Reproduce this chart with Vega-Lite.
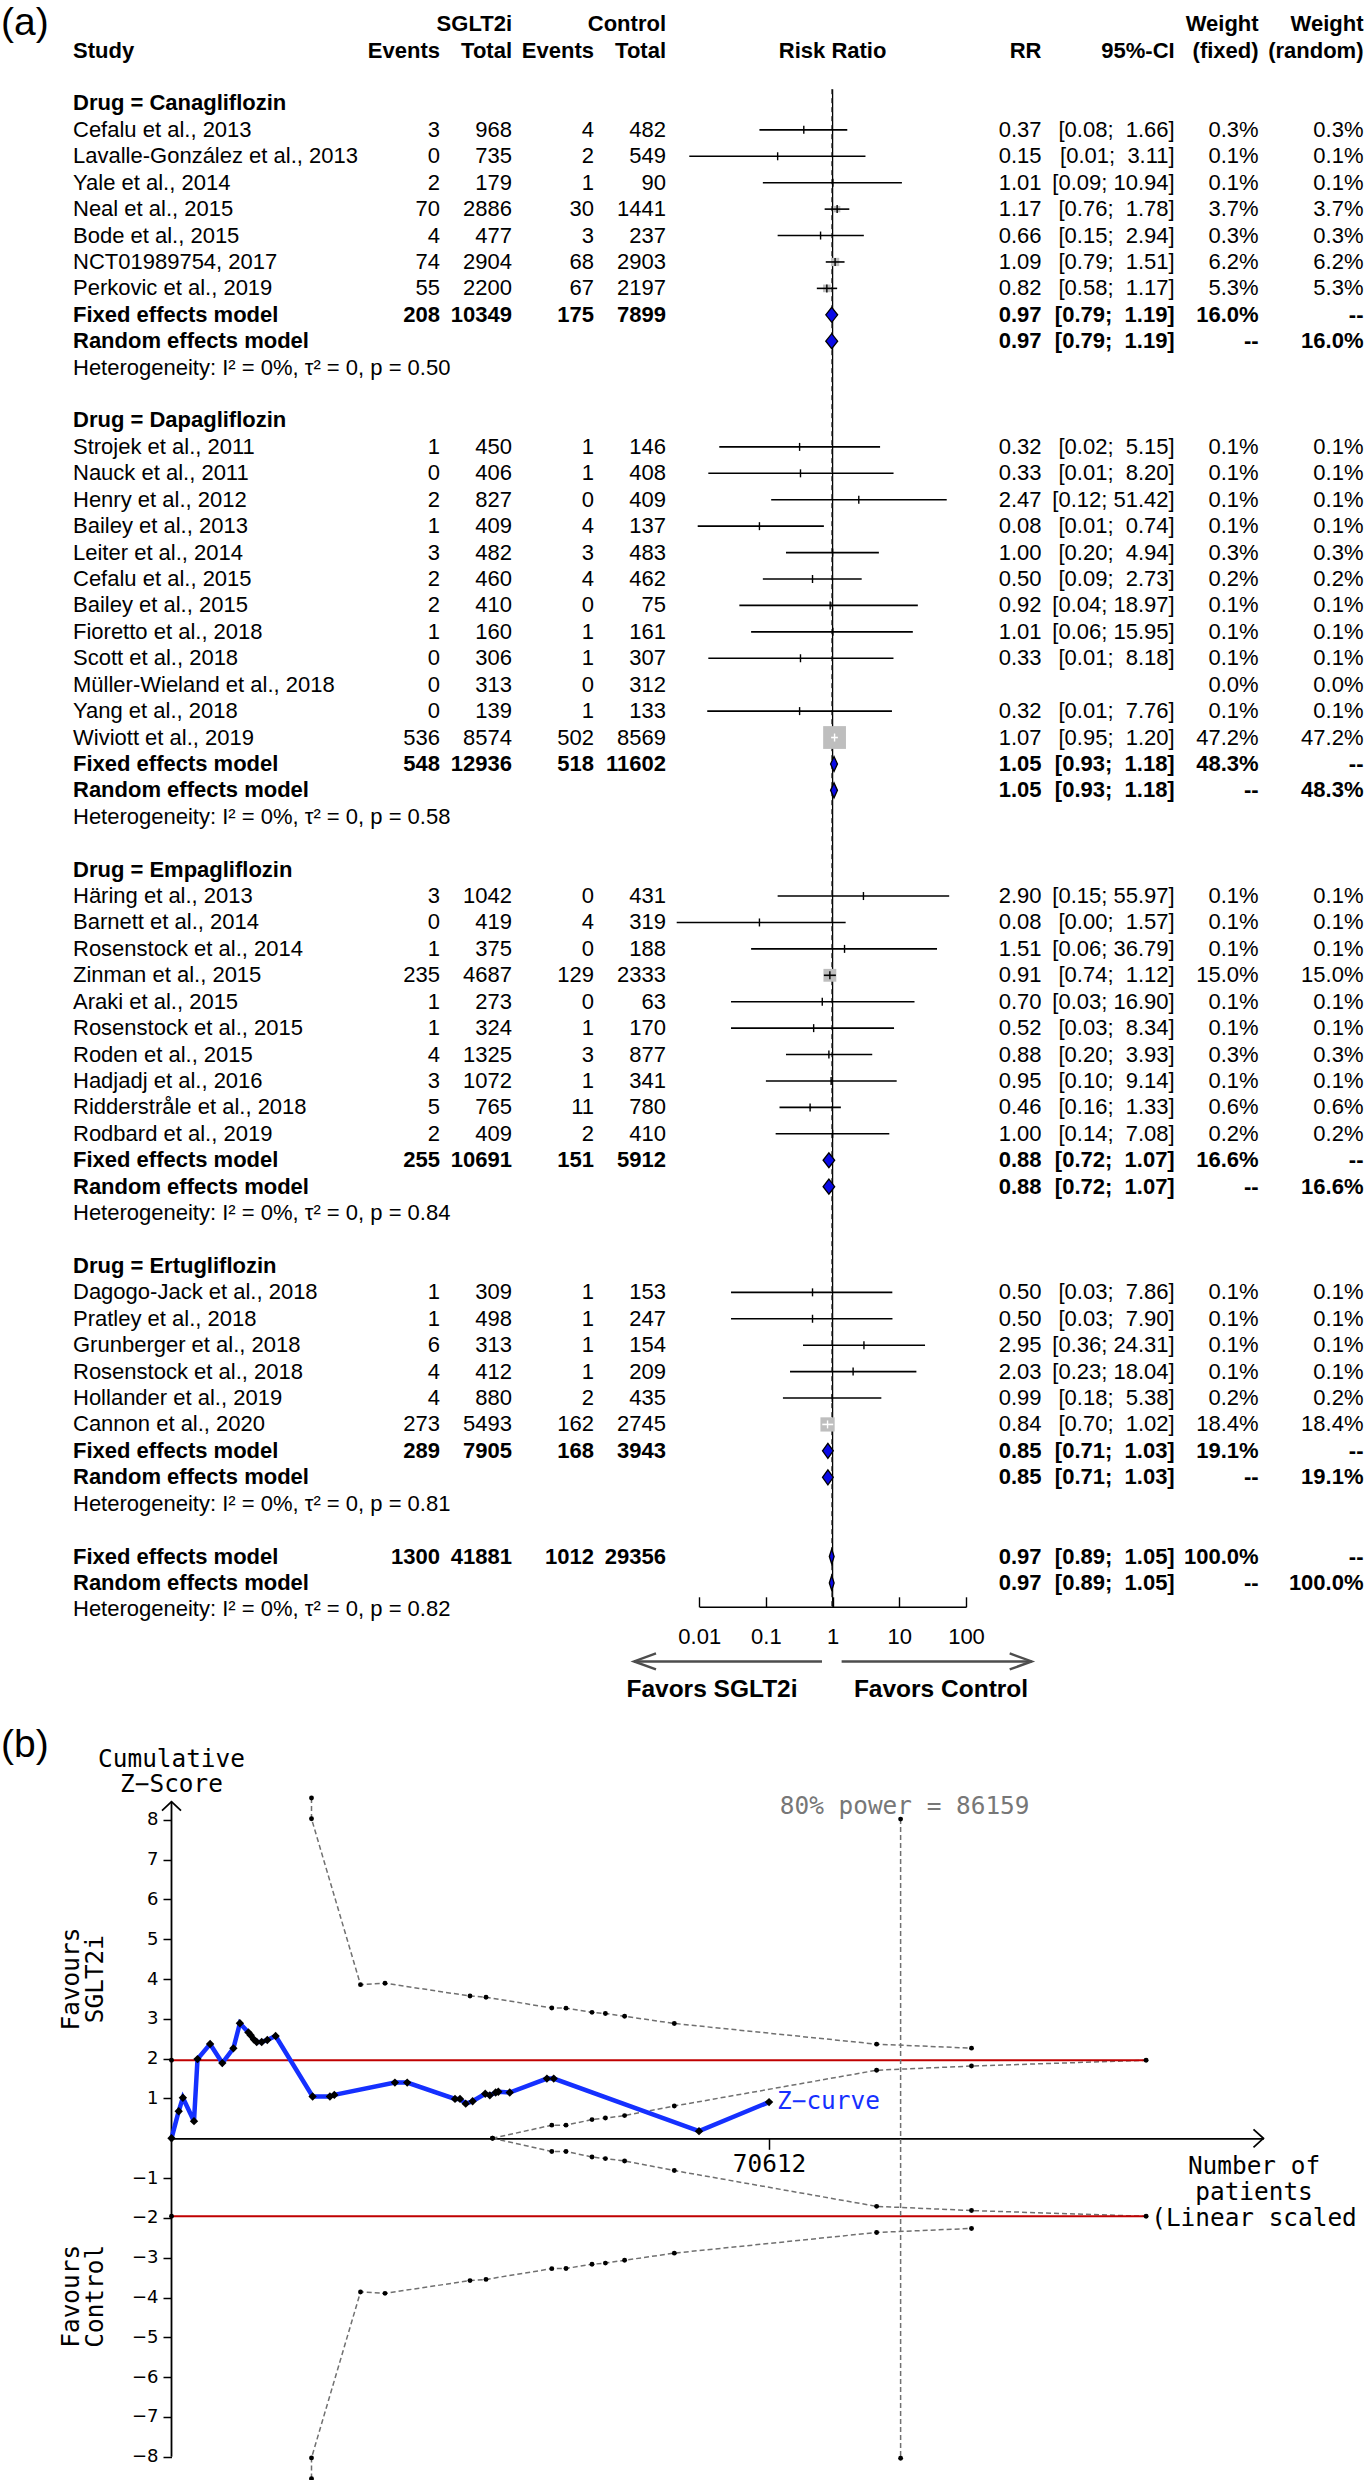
{
"$schema":"https://vega.github.io/schema/vega-lite/v6.json",
"width":1365,"height":2480,
"autosize":{"type":"none"},
"padding":0,
"background":"white",
"config":{"view":{"stroke":null}},
"datasets":{
"tbl":[
{"r":2,"kind":"drug","drug":"Canagliflozin","study":"Drug = Canagliflozin"},
{"r":3,"kind":"study","drug":"Canagliflozin","study":"Cefalu et al., 2013","e1":3,"n1":968,"e2":4,"n2":482,"rr":0.37,"lo":0.08,"hi":1.66,"ci":"[0.08;\u00a0 1.66]","wf":0.003,"wr":0.003},
{"r":4,"kind":"study","drug":"Canagliflozin","study":"Lavalle-González et al., 2013","e1":0,"n1":735,"e2":2,"n2":549,"rr":0.15,"lo":0.0071,"hi":3.11,"ci":"[0.01;\u00a0 3.11]","wf":0.001,"wr":0.001},
{"r":5,"kind":"study","drug":"Canagliflozin","study":"Yale et al., 2014","e1":2,"n1":179,"e2":1,"n2":90,"rr":1.01,"lo":0.09,"hi":10.94,"ci":"[0.09; 10.94]","wf":0.001,"wr":0.001},
{"r":6,"kind":"study","drug":"Canagliflozin","study":"Neal et al., 2015","e1":70,"n1":2886,"e2":30,"n2":1441,"rr":1.17,"lo":0.76,"hi":1.78,"ci":"[0.76;\u00a0 1.78]","wf":0.037,"wr":0.037},
{"r":7,"kind":"study","drug":"Canagliflozin","study":"Bode et al., 2015","e1":4,"n1":477,"e2":3,"n2":237,"rr":0.66,"lo":0.15,"hi":2.94,"ci":"[0.15;\u00a0 2.94]","wf":0.003,"wr":0.003},
{"r":8,"kind":"study","drug":"Canagliflozin","study":"NCT01989754, 2017","e1":74,"n1":2904,"e2":68,"n2":2903,"rr":1.09,"lo":0.79,"hi":1.51,"ci":"[0.79;\u00a0 1.51]","wf":0.062,"wr":0.062},
{"r":9,"kind":"study","drug":"Canagliflozin","study":"Perkovic et al., 2019","e1":55,"n1":2200,"e2":67,"n2":2197,"rr":0.82,"lo":0.58,"hi":1.17,"ci":"[0.58;\u00a0 1.17]","wf":0.053,"wr":0.053},
{"r":10,"kind":"fixed","drug":"Canagliflozin","study":"Fixed effects model","e1":208,"n1":10349,"e2":175,"n2":7899,"rr":0.97,"lo":0.79,"hi":1.19,"ci":"[0.79;\u00a0 1.19]","wf":0.16},
{"r":11,"kind":"random","drug":"Canagliflozin","study":"Random effects model","rr":0.97,"lo":0.79,"hi":1.19,"ci":"[0.79;\u00a0 1.19]","wr":0.16},
{"r":12,"kind":"het","drug":"Canagliflozin","study":"Heterogeneity: I² = 0%, τ² = 0, p = 0.50"},
{"r":14,"kind":"drug","drug":"Dapagliflozin","study":"Drug = Dapagliflozin"},
{"r":15,"kind":"study","drug":"Dapagliflozin","study":"Strojek et al., 2011","e1":1,"n1":450,"e2":1,"n2":146,"rr":0.32,"lo":0.02,"hi":5.15,"ci":"[0.02;\u00a0 5.15]","wf":0.001,"wr":0.001},
{"r":16,"kind":"study","drug":"Dapagliflozin","study":"Nauck et al., 2011","e1":0,"n1":406,"e2":1,"n2":408,"rr":0.33,"lo":0.0137,"hi":8.2,"ci":"[0.01;\u00a0 8.20]","wf":0.001,"wr":0.001},
{"r":17,"kind":"study","drug":"Dapagliflozin","study":"Henry et al., 2012","e1":2,"n1":827,"e2":0,"n2":409,"rr":2.47,"lo":0.12,"hi":51.42,"ci":"[0.12; 51.42]","wf":0.001,"wr":0.001},
{"r":18,"kind":"study","drug":"Dapagliflozin","study":"Bailey et al., 2013","e1":1,"n1":409,"e2":4,"n2":137,"rr":0.08,"lo":0.0095,"hi":0.74,"ci":"[0.01;\u00a0 0.74]","wf":0.001,"wr":0.001},
{"r":19,"kind":"study","drug":"Dapagliflozin","study":"Leiter et al., 2014","e1":3,"n1":482,"e2":3,"n2":483,"rr":1.0,"lo":0.2,"hi":4.94,"ci":"[0.20;\u00a0 4.94]","wf":0.003,"wr":0.003},
{"r":20,"kind":"study","drug":"Dapagliflozin","study":"Cefalu et al., 2015","e1":2,"n1":460,"e2":4,"n2":462,"rr":0.5,"lo":0.09,"hi":2.73,"ci":"[0.09;\u00a0 2.73]","wf":0.002,"wr":0.002},
{"r":21,"kind":"study","drug":"Dapagliflozin","study":"Bailey et al., 2015","e1":2,"n1":410,"e2":0,"n2":75,"rr":0.92,"lo":0.04,"hi":18.97,"ci":"[0.04; 18.97]","wf":0.001,"wr":0.001},
{"r":22,"kind":"study","drug":"Dapagliflozin","study":"Fioretto et al., 2018","e1":1,"n1":160,"e2":1,"n2":161,"rr":1.01,"lo":0.06,"hi":15.95,"ci":"[0.06; 15.95]","wf":0.001,"wr":0.001},
{"r":23,"kind":"study","drug":"Dapagliflozin","study":"Scott et al., 2018","e1":0,"n1":306,"e2":1,"n2":307,"rr":0.33,"lo":0.0137,"hi":8.18,"ci":"[0.01;\u00a0 8.18]","wf":0.001,"wr":0.001},
{"r":24,"kind":"study","drug":"Dapagliflozin","study":"Müller-Wieland et al., 2018","e1":0,"n1":313,"e2":0,"n2":312,"wf":0,"wr":0},
{"r":25,"kind":"study","drug":"Dapagliflozin","study":"Yang et al., 2018","e1":0,"n1":139,"e2":1,"n2":133,"rr":0.32,"lo":0.0132,"hi":7.76,"ci":"[0.01;\u00a0 7.76]","wf":0.001,"wr":0.001},
{"r":26,"kind":"study","drug":"Dapagliflozin","study":"Wiviott et al., 2019","e1":536,"n1":8574,"e2":502,"n2":8569,"rr":1.07,"lo":0.95,"hi":1.2,"ci":"[0.95;\u00a0 1.20]","wf":0.472,"wr":0.472},
{"r":27,"kind":"fixed","drug":"Dapagliflozin","study":"Fixed effects model","e1":548,"n1":12936,"e2":518,"n2":11602,"rr":1.05,"lo":0.93,"hi":1.18,"ci":"[0.93;\u00a0 1.18]","wf":0.483},
{"r":28,"kind":"random","drug":"Dapagliflozin","study":"Random effects model","rr":1.05,"lo":0.93,"hi":1.18,"ci":"[0.93;\u00a0 1.18]","wr":0.483},
{"r":29,"kind":"het","drug":"Dapagliflozin","study":"Heterogeneity: I² = 0%, τ² = 0, p = 0.58"},
{"r":31,"kind":"drug","drug":"Empagliflozin","study":"Drug = Empagliflozin"},
{"r":32,"kind":"study","drug":"Empagliflozin","study":"Häring et al., 2013","e1":3,"n1":1042,"e2":0,"n2":431,"rr":2.9,"lo":0.15,"hi":55.97,"ci":"[0.15; 55.97]","wf":0.001,"wr":0.001},
{"r":33,"kind":"study","drug":"Empagliflozin","study":"Barnett et al., 2014","e1":0,"n1":419,"e2":4,"n2":319,"rr":0.08,"lo":0.0046,"hi":1.57,"ci":"[0.00;\u00a0 1.57]","wf":0.001,"wr":0.001},
{"r":34,"kind":"study","drug":"Empagliflozin","study":"Rosenstock et al., 2014","e1":1,"n1":375,"e2":0,"n2":188,"rr":1.51,"lo":0.06,"hi":36.79,"ci":"[0.06; 36.79]","wf":0.001,"wr":0.001},
{"r":35,"kind":"study","drug":"Empagliflozin","study":"Zinman et al., 2015","e1":235,"n1":4687,"e2":129,"n2":2333,"rr":0.91,"lo":0.74,"hi":1.12,"ci":"[0.74;\u00a0 1.12]","wf":0.15,"wr":0.15},
{"r":36,"kind":"study","drug":"Empagliflozin","study":"Araki et al., 2015","e1":1,"n1":273,"e2":0,"n2":63,"rr":0.7,"lo":0.03,"hi":16.9,"ci":"[0.03; 16.90]","wf":0.001,"wr":0.001},
{"r":37,"kind":"study","drug":"Empagliflozin","study":"Rosenstock et al., 2015","e1":1,"n1":324,"e2":1,"n2":170,"rr":0.52,"lo":0.03,"hi":8.34,"ci":"[0.03;\u00a0 8.34]","wf":0.001,"wr":0.001},
{"r":38,"kind":"study","drug":"Empagliflozin","study":"Roden et al., 2015","e1":4,"n1":1325,"e2":3,"n2":877,"rr":0.88,"lo":0.2,"hi":3.93,"ci":"[0.20;\u00a0 3.93]","wf":0.003,"wr":0.003},
{"r":39,"kind":"study","drug":"Empagliflozin","study":"Hadjadj et al., 2016","e1":3,"n1":1072,"e2":1,"n2":341,"rr":0.95,"lo":0.1,"hi":9.14,"ci":"[0.10;\u00a0 9.14]","wf":0.001,"wr":0.001},
{"r":40,"kind":"study","drug":"Empagliflozin","study":"Ridderstråle et al., 2018","e1":5,"n1":765,"e2":11,"n2":780,"rr":0.46,"lo":0.16,"hi":1.33,"ci":"[0.16;\u00a0 1.33]","wf":0.006,"wr":0.006},
{"r":41,"kind":"study","drug":"Empagliflozin","study":"Rodbard et al., 2019","e1":2,"n1":409,"e2":2,"n2":410,"rr":1.0,"lo":0.14,"hi":7.08,"ci":"[0.14;\u00a0 7.08]","wf":0.002,"wr":0.002},
{"r":42,"kind":"fixed","drug":"Empagliflozin","study":"Fixed effects model","e1":255,"n1":10691,"e2":151,"n2":5912,"rr":0.88,"lo":0.72,"hi":1.07,"ci":"[0.72;\u00a0 1.07]","wf":0.166},
{"r":43,"kind":"random","drug":"Empagliflozin","study":"Random effects model","rr":0.88,"lo":0.72,"hi":1.07,"ci":"[0.72;\u00a0 1.07]","wr":0.166},
{"r":44,"kind":"het","drug":"Empagliflozin","study":"Heterogeneity: I² = 0%, τ² = 0, p = 0.84"},
{"r":46,"kind":"drug","drug":"Ertugliflozin","study":"Drug = Ertugliflozin"},
{"r":47,"kind":"study","drug":"Ertugliflozin","study":"Dagogo-Jack et al., 2018","e1":1,"n1":309,"e2":1,"n2":153,"rr":0.5,"lo":0.03,"hi":7.86,"ci":"[0.03;\u00a0 7.86]","wf":0.001,"wr":0.001},
{"r":48,"kind":"study","drug":"Ertugliflozin","study":"Pratley et al., 2018","e1":1,"n1":498,"e2":1,"n2":247,"rr":0.5,"lo":0.03,"hi":7.9,"ci":"[0.03;\u00a0 7.90]","wf":0.001,"wr":0.001},
{"r":49,"kind":"study","drug":"Ertugliflozin","study":"Grunberger et al., 2018","e1":6,"n1":313,"e2":1,"n2":154,"rr":2.95,"lo":0.36,"hi":24.31,"ci":"[0.36; 24.31]","wf":0.001,"wr":0.001},
{"r":50,"kind":"study","drug":"Ertugliflozin","study":"Rosenstock et al., 2018","e1":4,"n1":412,"e2":1,"n2":209,"rr":2.03,"lo":0.23,"hi":18.04,"ci":"[0.23; 18.04]","wf":0.001,"wr":0.001},
{"r":51,"kind":"study","drug":"Ertugliflozin","study":"Hollander et al., 2019","e1":4,"n1":880,"e2":2,"n2":435,"rr":0.99,"lo":0.18,"hi":5.38,"ci":"[0.18;\u00a0 5.38]","wf":0.002,"wr":0.002},
{"r":52,"kind":"study","drug":"Ertugliflozin","study":"Cannon et al., 2020","e1":273,"n1":5493,"e2":162,"n2":2745,"rr":0.84,"lo":0.7,"hi":1.02,"ci":"[0.70;\u00a0 1.02]","wf":0.184,"wr":0.184},
{"r":53,"kind":"fixed","drug":"Ertugliflozin","study":"Fixed effects model","e1":289,"n1":7905,"e2":168,"n2":3943,"rr":0.85,"lo":0.71,"hi":1.03,"ci":"[0.71;\u00a0 1.03]","wf":0.191},
{"r":54,"kind":"random","drug":"Ertugliflozin","study":"Random effects model","rr":0.85,"lo":0.71,"hi":1.03,"ci":"[0.71;\u00a0 1.03]","wr":0.191},
{"r":55,"kind":"het","drug":"Ertugliflozin","study":"Heterogeneity: I² = 0%, τ² = 0, p = 0.81"},
{"r":57,"kind":"fixed","drug":"Overall","study":"Fixed effects model","e1":1300,"n1":41881,"e2":1012,"n2":29356,"rr":0.97,"lo":0.89,"hi":1.05,"ci":"[0.89;\u00a0 1.05]","wf":1.0},
{"r":58,"kind":"random","drug":"Overall","study":"Random effects model","rr":0.97,"lo":0.89,"hi":1.05,"ci":"[0.89;\u00a0 1.05]","wr":1.0},
{"r":59,"kind":"het","drug":"Overall","study":"Heterogeneity: I² = 0%, τ² = 0, p = 0.82"}
],
"zc":[
{"n":0,"z":0},{"n":851,"z":0.68},{"n":1347,"z":1.02},{"n":2659,"z":0.43},{"n":3073,"z":1.99},{"n":4561,"z":2.37},{"n":6003,"z":1.89},{"n":7315,"z":2.26},{"n":8083,"z":2.89},{"n":9088,"z":2.66},{"n":9359,"z":2.59},{"n":9749,"z":2.48},{"n":10068,"z":2.42},{"n":10659,"z":2.42},{"n":11321,"z":2.47},{"n":12302,"z":2.57},{"n":16675,"z":1.05},{"n":18719,"z":1.05},{"n":19239,"z":1.09},{"n":26400,"z":1.4},{"n":27854,"z":1.4},{"n":33503,"z":0.99},{"n":34094,"z":0.99},{"n":34767,"z":0.87},{"n":35583,"z":0.93},{"n":37072,"z":1.12},{"n":37616,"z":1.08},{"n":38301,"z":1.15},{"n":38620,"z":1.17},{"n":39967,"z":1.15},{"n":44363,"z":1.5},{"n":45167,"z":1.5},{"n":62337,"z":0.18},{"n":70612,"z":0.91}
],
"bnd":[
{"s":"upper","n":16544,"z":8.55},{"s":"upper","n":16544,"z":8.03},{"s":"upper","n":22334,"z":3.86},{"s":"upper","n":25229,"z":3.895},{"s":"upper","n":35274,"z":3.575},{"s":"upper","n":37165,"z":3.545},{"s":"upper","n":44940,"z":3.275},{"s":"upper","n":46618,"z":3.27},{"s":"upper","n":49691,"z":3.165},{"s":"upper","n":51274,"z":3.135},{"s":"upper","n":53543,"z":3.065},{"s":"upper","n":59416,"z":2.885},{"s":"upper","n":83322,"z":2.365},{"s":"upper","n":94536,"z":2.265},
{"s":"lower","n":16544,"z":-8.55},{"s":"lower","n":16544,"z":-8.03},{"s":"lower","n":22334,"z":-3.86},{"s":"lower","n":25229,"z":-3.895},{"s":"lower","n":35274,"z":-3.575},{"s":"lower","n":37165,"z":-3.545},{"s":"lower","n":44940,"z":-3.275},{"s":"lower","n":46618,"z":-3.27},{"s":"lower","n":49691,"z":-3.165},{"s":"lower","n":51274,"z":-3.135},{"s":"lower","n":53543,"z":-3.065},{"s":"lower","n":59416,"z":-2.885},{"s":"lower","n":83322,"z":-2.365},{"s":"lower","n":94536,"z":-2.265},
{"s":"uin","n":37933,"z":0},{"s":"uin","n":44940,"z":0.33},{"s":"uin","n":46618,"z":0.33},{"s":"uin","n":49691,"z":0.47},{"s":"uin","n":51274,"z":0.51},{"s":"uin","n":53543,"z":0.57},{"s":"uin","n":59416,"z":0.81},{"s":"uin","n":83322,"z":1.71},{"s":"uin","n":94536,"z":1.815},{"s":"uin","n":115169,"z":1.96},
{"s":"lin","n":37933,"z":0},{"s":"lin","n":44940,"z":-0.33},{"s":"lin","n":46618,"z":-0.33},{"s":"lin","n":49691,"z":-0.47},{"s":"lin","n":51274,"z":-0.51},{"s":"lin","n":53543,"z":-0.57},{"s":"lin","n":59416,"z":-0.81},{"s":"lin","n":83322,"z":-1.71},{"s":"lin","n":94536,"z":-1.815},{"s":"lin","n":115169,"z":-1.96}
],
"conv":[{"z":1.96},{"z":-1.96}]
},
"layer":[
{
"data":{"name":"tbl"},
"layer":[
{"mark":{"type":"text","font":"Liberation Sans","fontSize":22,"baseline":"middle","align":"left","color":"black","fontWeight":{"expr":"datum.kind === 'study' || datum.kind === 'het' ? 'normal' : 'bold'"}},
 "encoding":{"x":{"datum":73,"type":"quantitative","scale":{"domain":[0,1365],"range":[0,1365],"nice":false,"zero":false},"axis":null},
 "y":{"field":"r","type":"quantitative","scale":{"domain":[0,60],"range":[50.6,1635.8],"nice":false,"zero":false},"axis":null},
 "text":{"field":"study","type":"nominal"}}},
{"transform":[{"filter":"isValid(datum.e1)"}],
 "mark":{"type":"text","font":"Liberation Sans","fontSize":22,"baseline":"middle","align":"right","color":"black","fontWeight":{"expr":"datum.kind === 'study' ? 'normal' : 'bold'"}},
 "encoding":{"x":{"datum":440,"type":"quantitative","axis":null},"y":{"field":"r","type":"quantitative","axis":null},"text":{"field":"e1","type":"quantitative","format":"d"}}},
{"transform":[{"filter":"isValid(datum.e1)"}],
 "mark":{"type":"text","font":"Liberation Sans","fontSize":22,"baseline":"middle","align":"right","color":"black","fontWeight":{"expr":"datum.kind === 'study' ? 'normal' : 'bold'"}},
 "encoding":{"x":{"datum":512,"type":"quantitative","axis":null},"y":{"field":"r","type":"quantitative","axis":null},"text":{"field":"n1","type":"quantitative","format":"d"}}},
{"transform":[{"filter":"isValid(datum.e1)"}],
 "mark":{"type":"text","font":"Liberation Sans","fontSize":22,"baseline":"middle","align":"right","color":"black","fontWeight":{"expr":"datum.kind === 'study' ? 'normal' : 'bold'"}},
 "encoding":{"x":{"datum":594,"type":"quantitative","axis":null},"y":{"field":"r","type":"quantitative","axis":null},"text":{"field":"e2","type":"quantitative","format":"d"}}},
{"transform":[{"filter":"isValid(datum.e1)"}],
 "mark":{"type":"text","font":"Liberation Sans","fontSize":22,"baseline":"middle","align":"right","color":"black","fontWeight":{"expr":"datum.kind === 'study' ? 'normal' : 'bold'"}},
 "encoding":{"x":{"datum":666,"type":"quantitative","axis":null},"y":{"field":"r","type":"quantitative","axis":null},"text":{"field":"n2","type":"quantitative","format":"d"}}},
{"transform":[{"filter":"isValid(datum.rr)"}],
 "mark":{"type":"text","font":"Liberation Sans","fontSize":22,"baseline":"middle","align":"right","color":"black","fontWeight":{"expr":"datum.kind === 'study' ? 'normal' : 'bold'"}},
 "encoding":{"x":{"datum":1041.5,"type":"quantitative","axis":null},"y":{"field":"r","type":"quantitative","axis":null},"text":{"field":"rr","type":"quantitative","format":".2f"}}},
{"transform":[{"filter":"isValid(datum.ci)"}],
 "mark":{"type":"text","font":"Liberation Sans","fontSize":22,"baseline":"middle","align":"right","color":"black","fontWeight":{"expr":"datum.kind === 'study' ? 'normal' : 'bold'"}},
 "encoding":{"x":{"datum":1174.7,"type":"quantitative","axis":null},"y":{"field":"r","type":"quantitative","axis":null},"text":{"field":"ci","type":"nominal"}}},
{"transform":[{"filter":"datum.kind === 'study' || datum.kind === 'fixed' || datum.kind === 'random'"}],
 "mark":{"type":"text","font":"Liberation Sans","fontSize":22,"baseline":"middle","align":"right","color":"black","fontWeight":{"expr":"datum.kind === 'study' ? 'normal' : 'bold'"}},
 "encoding":{"x":{"datum":1258.6,"type":"quantitative","axis":null},"y":{"field":"r","type":"quantitative","axis":null},"text":{"condition":{"test":"!isValid(datum.wf)","value":"--"},"field":"wf","type":"quantitative","format":".1%"}}},
{"transform":[{"filter":"datum.kind === 'study' || datum.kind === 'fixed' || datum.kind === 'random'"}],
 "mark":{"type":"text","font":"Liberation Sans","fontSize":22,"baseline":"middle","align":"right","color":"black","fontWeight":{"expr":"datum.kind === 'study' ? 'normal' : 'bold'"}},
 "encoding":{"x":{"datum":1363.5,"type":"quantitative","axis":null},"y":{"field":"r","type":"quantitative","axis":null},"text":{"condition":{"test":"!isValid(datum.wr)","value":"--"},"field":"wr","type":"quantitative","format":".1%"}}},
{"data":{"values":[{}]},"mark":{"type":"text","text":"(a)","font":"Liberation Sans","fontSize":39,"baseline":"middle","align":"left","color":"black"},
 "encoding":{"x":{"datum":1,"type":"quantitative","axis":null},"y":{"datum":-1.045,"type":"quantitative","axis":null}}},
{"data":{"values":[{}]},"mark":{"type":"text","text":"(b)","font":"Liberation Sans","fontSize":39,"baseline":"middle","align":"left","color":"black"},
 "encoding":{"x":{"datum":1,"type":"quantitative","axis":null},"y":{"datum":64.13,"type":"quantitative","axis":null}}},
{"data":{"values":[{}]},"mark":{"type":"text","text":"Study","font":"Liberation Sans","fontSize":22,"fontWeight":"bold","baseline":"middle","align":"left","color":"black"},
 "encoding":{"x":{"datum":73,"type":"quantitative","axis":null},"y":{"datum":0,"type":"quantitative","axis":null}}},
{"data":{"values":[{}]},"mark":{"type":"text","text":"Events","font":"Liberation Sans","fontSize":22,"fontWeight":"bold","baseline":"middle","align":"right","color":"black"},
 "encoding":{"x":{"datum":440,"type":"quantitative","axis":null},"y":{"datum":0,"type":"quantitative","axis":null}}},
{"data":{"values":[{}]},"mark":{"type":"text","text":"Total","font":"Liberation Sans","fontSize":22,"fontWeight":"bold","baseline":"middle","align":"right","color":"black"},
 "encoding":{"x":{"datum":512,"type":"quantitative","axis":null},"y":{"datum":0,"type":"quantitative","axis":null}}},
{"data":{"values":[{}]},"mark":{"type":"text","text":"Events","font":"Liberation Sans","fontSize":22,"fontWeight":"bold","baseline":"middle","align":"right","color":"black"},
 "encoding":{"x":{"datum":594,"type":"quantitative","axis":null},"y":{"datum":0,"type":"quantitative","axis":null}}},
{"data":{"values":[{}]},"mark":{"type":"text","text":"Total","font":"Liberation Sans","fontSize":22,"fontWeight":"bold","baseline":"middle","align":"right","color":"black"},
 "encoding":{"x":{"datum":666,"type":"quantitative","axis":null},"y":{"datum":0,"type":"quantitative","axis":null}}},
{"data":{"values":[{}]},"mark":{"type":"text","text":"SGLT2i","font":"Liberation Sans","fontSize":22,"fontWeight":"bold","baseline":"middle","align":"right","color":"black"},
 "encoding":{"x":{"datum":512,"type":"quantitative","axis":null},"y":{"datum":-1,"type":"quantitative","axis":null}}},
{"data":{"values":[{}]},"mark":{"type":"text","text":"Control","font":"Liberation Sans","fontSize":22,"fontWeight":"bold","baseline":"middle","align":"right","color":"black"},
 "encoding":{"x":{"datum":666,"type":"quantitative","axis":null},"y":{"datum":-1,"type":"quantitative","axis":null}}},
{"data":{"values":[{}]},"mark":{"type":"text","text":"RR","font":"Liberation Sans","fontSize":22,"fontWeight":"bold","baseline":"middle","align":"right","color":"black"},
 "encoding":{"x":{"datum":1041.5,"type":"quantitative","axis":null},"y":{"datum":0,"type":"quantitative","axis":null}}},
{"data":{"values":[{}]},"mark":{"type":"text","text":"95%-CI","font":"Liberation Sans","fontSize":22,"fontWeight":"bold","baseline":"middle","align":"right","color":"black"},
 "encoding":{"x":{"datum":1174.7,"type":"quantitative","axis":null},"y":{"datum":0,"type":"quantitative","axis":null}}},
{"data":{"values":[{}]},"mark":{"type":"text","text":"Weight","font":"Liberation Sans","fontSize":22,"fontWeight":"bold","baseline":"middle","align":"right","color":"black"},
 "encoding":{"x":{"datum":1258.6,"type":"quantitative","axis":null},"y":{"datum":-1,"type":"quantitative","axis":null}}},
{"data":{"values":[{}]},"mark":{"type":"text","text":"(fixed)","font":"Liberation Sans","fontSize":22,"fontWeight":"bold","baseline":"middle","align":"right","color":"black"},
 "encoding":{"x":{"datum":1258.6,"type":"quantitative","axis":null},"y":{"datum":0,"type":"quantitative","axis":null}}},
{"data":{"values":[{}]},"mark":{"type":"text","text":"Weight","font":"Liberation Sans","fontSize":22,"fontWeight":"bold","baseline":"middle","align":"right","color":"black"},
 "encoding":{"x":{"datum":1363.5,"type":"quantitative","axis":null},"y":{"datum":-1,"type":"quantitative","axis":null}}},
{"data":{"values":[{}]},"mark":{"type":"text","text":"(random)","font":"Liberation Sans","fontSize":22,"fontWeight":"bold","baseline":"middle","align":"right","color":"black"},
 "encoding":{"x":{"datum":1363.5,"type":"quantitative","axis":null},"y":{"datum":0,"type":"quantitative","axis":null}}}
]
},
{
"data":{"name":"tbl"},
"layer":[
{"data":{"values":[{}]},"mark":{"type":"rule","color":"black","strokeWidth":1.3},
 "encoding":{"x":{"datum":1,"type":"quantitative","scale":{"type":"log","domain":[0.01,100],"range":[699.2,966.0],"nice":false},
 "axis":{"orient":"bottom","offset":-873.2,"values":[0.01,0.1,1,10,100],"format":"~g","title":null,"grid":false,"domainColor":"black","domainWidth":1.4,"tickColor":"black","tickWidth":1.4,"tickSize":-10,"labelFont":"Liberation Sans","labelFontSize":22,"labelColor":"black","labelPadding":30,"labelFlush":false,"labelOverlap":false}},
 "y":{"datum":1.46,"type":"quantitative","scale":{"domain":[0,60],"range":[50.6,1635.8],"nice":false,"zero":false},"axis":null},"y2":{"datum":58.9}}},
{"data":{"values":[{}]},"mark":{"type":"rule","color":"#444444","strokeWidth":1,"strokeDash":[5,4]},
 "encoding":{"x":{"datum":0.97,"type":"quantitative"},"y":{"datum":1.46,"type":"quantitative","axis":null},"y2":{"datum":58.9}}},
{"transform":[{"filter":"datum.kind === 'study' && isValid(datum.rr)"}],
 "mark":{"type":"point","shape":"square","filled":true,"color":"#BEBEBE","opacity":1,"strokeWidth":0},
 "encoding":{"x":{"field":"rr","type":"quantitative"},
 "y":{"field":"r","type":"quantitative","axis":null},
 "size":{"field":"wf","type":"quantitative","scale":{"domain":[0,0.472],"range":[0,520]},"legend":null}}},
{"transform":[{"filter":"datum.kind === 'study' && isValid(datum.rr)"}],
 "mark":{"type":"rule","strokeWidth":1.6},
 "encoding":{"x":{"field":"lo","type":"quantitative"},"x2":{"field":"hi"},"y":{"field":"r","type":"quantitative","axis":null},
 "color":{"condition":{"test":"datum.wf > 0.16","value":"white"},"value":"black"}}},
{"transform":[{"filter":"datum.kind === 'study' && isValid(datum.rr)"}],
 "mark":{"type":"point","shape":"M0,-1L0,1","filled":false,"size":64,"strokeWidth":1.4,"opacity":1},
 "encoding":{"x":{"field":"rr","type":"quantitative"},"y":{"field":"r","type":"quantitative","axis":null},
 "color":{"condition":{"test":"datum.wf > 0.16","value":"white"},"value":"black"}}},
{"transform":[{"filter":"datum.kind === 'fixed' || datum.kind === 'random'"}],
 "mark":{"type":"point","filled":true,"fill":"#0A0AE6","stroke":"black","strokeWidth":1.3,"size":225,"opacity":1},
 "encoding":{"x":{"field":"rr","type":"quantitative"},"y":{"field":"r","type":"quantitative","axis":null},
 "shape":{"field":"drug","type":"nominal","scale":{"domain":["Canagliflozin","Dapagliflozin","Empagliflozin","Ertugliflozin","Overall"],"range":["M-0.79,0L0,-1L0.79,0L0,1Z","M-0.46,0L0,-1L0.46,0L0,1Z","M-0.77,0L0,-1L0.77,0L0,1Z","M-0.72,0L0,-1L0.72,0L0,1Z","M-0.32,0L0,-1L0.32,0L0,1Z"]},"legend":null}}},
{"data":{"values":[{}]},"mark":{"type":"rule","color":"#4d4d4d","strokeWidth":2.4},
 "encoding":{"x":{"datum":0.001053,"type":"quantitative"},"x2":{"datum":0.6934},"y":{"datum":60.97,"type":"quantitative","axis":null}}},
{"data":{"values":[{}]},"mark":{"type":"rule","color":"#4d4d4d","strokeWidth":2.4},
 "encoding":{"x":{"datum":1.365,"type":"quantitative"},"x2":{"datum":966},"y":{"datum":60.97,"type":"quantitative","axis":null}}},
{"data":{"values":[{}]},"mark":{"type":"point","shape":"M1,-0.364L0,0L1,0.364","filled":false,"size":1936,"stroke":"#4d4d4d","strokeWidth":2.4,"opacity":1},
 "encoding":{"x":{"datum":0.001053,"type":"quantitative"},"y":{"datum":60.97,"type":"quantitative","axis":null}}},
{"data":{"values":[{}]},"mark":{"type":"point","shape":"M-1,-0.364L0,0L-1,0.364","filled":false,"size":1936,"stroke":"#4d4d4d","strokeWidth":2.4,"opacity":1},
 "encoding":{"x":{"datum":966,"type":"quantitative"},"y":{"datum":60.97,"type":"quantitative","axis":null}}},
{"data":{"values":[{}]},"mark":{"type":"text","text":"Favors SGLT2i","font":"Liberation Sans","fontSize":24.5,"fontWeight":"bold","align":"center","baseline":"middle","color":"black"},
 "encoding":{"x":{"datum":0.01555,"type":"quantitative"},"y":{"datum":62.06,"type":"quantitative","axis":null}}},
{"data":{"values":[{}]},"mark":{"type":"text","text":"Favors Control","font":"Liberation Sans","fontSize":24.5,"fontWeight":"bold","align":"center","baseline":"middle","color":"black"},
 "encoding":{"x":{"datum":42.2,"type":"quantitative"},"y":{"datum":62.06,"type":"quantitative","axis":null}}},
{"data":{"values":[{}]},"mark":{"type":"text","text":"Risk Ratio","font":"Liberation Sans","fontSize":22,"fontWeight":"bold","align":"center","baseline":"middle","color":"black"},
 "encoding":{"x":{"datum":1,"type":"quantitative"},"y":{"datum":0,"type":"quantitative","axis":null}}}
]
},
{
"layer":[
{"data":{"name":"bnd"},"mark":{"type":"line","color":"#707070","strokeWidth":1.5,"strokeDash":[5,3]},
 "encoding":{"x":{"field":"n","type":"quantitative","scale":{"domain":[0,129030],"range":[171.5,1263.4],"nice":false,"zero":false},
 "axis":{"orient":"bottom","offset":-341.7,"values":[70612],"format":"d","title":null,"grid":false,"domainColor":"black","domainWidth":1.8,"tickColor":"black","tickWidth":1.5,"tickSize":11,"labelFont":"DejaVu Sans Mono","labelFontSize":24.4,"labelColor":"black","labelPadding":3,"labelFlush":false}},
 "y":{"field":"z","type":"quantitative","scale":{"domain":[-8.6,8.6],"range":[2480.6,1796.0],"nice":false,"zero":false},
 "axis":{"orient":"left","offset":-171.5,"values":[-8,-7,-6,-5,-4,-3,-2,-1,1,2,3,4,5,6,7,8],"format":"d","title":null,"grid":false,"domain":false,"tickColor":"black","tickWidth":1.5,"tickSize":8.5,"labelFont":"DejaVu Sans","labelFontSize":18,"labelColor":"black","labelPadding":5,"labelFlush":false,"labelOverlap":false}},
 "detail":{"field":"s","type":"nominal"},"order":{"value":null}}},
{"data":{"name":"conv"},"mark":{"type":"rule","color":"#C00000","strokeWidth":2},
 "encoding":{"x":{"datum":0,"type":"quantitative"},"x2":{"datum":115169},"y":{"field":"z","type":"quantitative"}}},
{"data":{"values":[{}]},"mark":{"type":"rule","color":"#707070","strokeWidth":1.5,"strokeDash":[5,3]},
 "encoding":{"x":{"datum":86159,"type":"quantitative"},"y":{"datum":8.02,"type":"quantitative"},"y2":{"datum":-8.04}}},
{"data":{"values":[{}]},"mark":{"type":"rule","color":"black","strokeWidth":1.8},
 "encoding":{"x":{"datum":0,"type":"quantitative"},"y":{"datum":-8,"type":"quantitative"},"y2":{"datum":8.457}}},
{"data":{"values":[{}]},"mark":{"type":"point","shape":"M-1,0.95L0,0L1,0.95","filled":false,"size":361,"stroke":"black","strokeWidth":1.8,"opacity":1},
 "encoding":{"x":{"datum":0,"type":"quantitative"},"y":{"datum":8.457,"type":"quantitative"}}},
{"data":{"values":[{}]},"mark":{"type":"point","shape":"M-1.1,-1L0,0L-1.1,1","filled":false,"size":324,"stroke":"black","strokeWidth":1.8,"opacity":1},
 "encoding":{"x":{"datum":129030,"type":"quantitative"},"y":{"datum":0,"type":"quantitative"}}},
{"data":{"name":"zc"},"mark":{"type":"line","color":"#1530FF","strokeWidth":4.5},
 "encoding":{"x":{"field":"n","type":"quantitative"},"y":{"field":"z","type":"quantitative"},"order":{"value":null}}},
{"data":{"name":"bnd"},"mark":{"type":"point","filled":true,"color":"black","size":24,"opacity":1},
 "encoding":{"x":{"field":"n","type":"quantitative"},"y":{"field":"z","type":"quantitative"}}},
{"data":{"name":"conv"},"mark":{"type":"point","filled":true,"color":"black","size":24,"opacity":1},
 "encoding":{"x":{"datum":0,"type":"quantitative"},"y":{"field":"z","type":"quantitative"}}},
{"data":{"values":[{}]},"mark":{"type":"point","filled":true,"color":"black","size":24,"opacity":1},
 "encoding":{"x":{"datum":86159,"type":"quantitative"},"y":{"datum":8.02,"type":"quantitative"}}},
{"data":{"values":[{}]},"mark":{"type":"point","filled":true,"color":"black","size":24,"opacity":1},
 "encoding":{"x":{"datum":86159,"type":"quantitative"},"y":{"datum":-8.04,"type":"quantitative"}}},
{"data":{"name":"zc"},"mark":{"type":"point","shape":"diamond","filled":true,"color":"black","size":70,"opacity":1},
 "encoding":{"x":{"field":"n","type":"quantitative"},"y":{"field":"z","type":"quantitative"}}},
{"data":{"values":[{}]},"mark":{"type":"text","text":["Cumulative","Z−Score"],"font":"DejaVu Sans Mono","fontSize":24.4,"lineHeight":25,"align":"center","baseline":"middle","color":"black"},
 "encoding":{"x":{"datum":0,"type":"quantitative"},"y":{"datum":9.505,"type":"quantitative"}}},
{"data":{"values":[{}]},"mark":{"type":"text","text":["Favours","SGLT2i"],"font":"DejaVu Sans Mono","fontSize":24.4,"lineHeight":23.5,"align":"center","baseline":"middle","angle":270,"color":"black"},
 "encoding":{"x":{"datum":-11699,"type":"quantitative"},"y":{"datum":4.0,"type":"quantitative"}}},
{"data":{"values":[{}]},"mark":{"type":"text","text":["Favours","Control"],"font":"DejaVu Sans Mono","fontSize":24.4,"lineHeight":23.5,"align":"center","baseline":"middle","angle":270,"color":"black"},
 "encoding":{"x":{"datum":-11699,"type":"quantitative"},"y":{"datum":-3.97,"type":"quantitative"}}},
{"data":{"values":[{}]},"mark":{"type":"text","text":"80% power = 86159","font":"DejaVu Sans Mono","fontSize":24.4,"align":"center","baseline":"middle","dx":4,"color":"#777777"},
 "encoding":{"x":{"datum":86159,"type":"quantitative"},"y":{"datum":8.33,"type":"quantitative"}}},
{"data":{"values":[{}]},"mark":{"type":"text","text":"Z−curve","font":"DejaVu Sans Mono","fontSize":24.4,"align":"left","baseline":"middle","dx":8,"color":"#1530FF"},
 "encoding":{"x":{"datum":70612,"type":"quantitative"},"y":{"datum":0.92,"type":"quantitative"}}},
{"data":{"values":[{}]},"mark":{"type":"text","text":["Number of","patients","(Linear scaled"],"font":"DejaVu Sans Mono","fontSize":24.4,"lineHeight":25.8,"align":"center","baseline":"middle","color":"black"},
 "encoding":{"x":{"datum":127920,"type":"quantitative"},"y":{"datum":-0.729,"type":"quantitative"}}}
]
}
],
"resolve":{"scale":{"x":"independent","y":"independent"}}
}
